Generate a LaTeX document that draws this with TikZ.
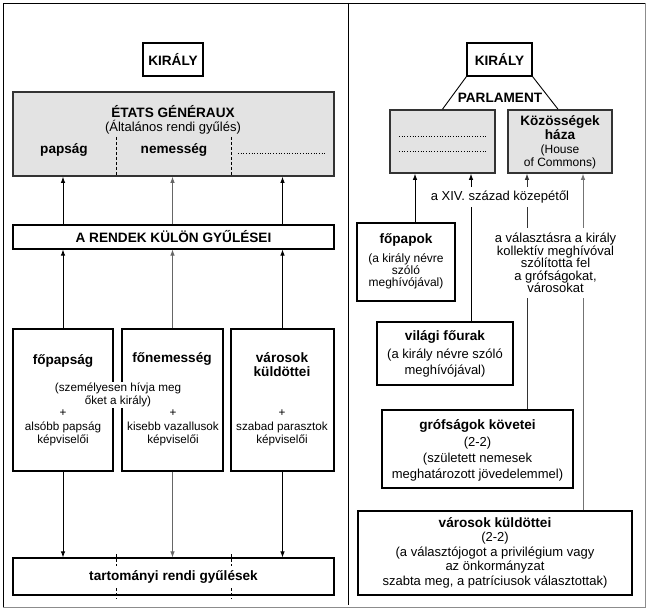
\documentclass[tikz,border=0pt]{standalone}
\usepackage{fontspec}
\setmainfont{Liberation Sans}
\usetikzlibrary{arrows.meta}

\tikzset{
  box/.style={draw, line width=1.1pt, fill=white, inner sep=0pt},
  graybox/.style={draw=black!80, line width=1.6pt, fill=black!11, inner sep=0pt},
  hd/.style={font=\fontsize{13.6}{14}\selectfont\bfseries},
  txt/.style={font=\fontsize{13}{12.6}\selectfont, align=center},
  small/.style={font=\fontsize{11.7}{12.4}\selectfont, align=center},
  arr/.style={-{Latex[length=6pt, width=4.5pt]}, line width=0.9pt},
  sep/.style={dash pattern=on 3pt off 2pt, line width=0.8pt},
}

\begin{document}
\begin{tikzpicture}[x=1pt, y=-1pt]
\useasboundingbox (0, 0) rectangle (648, 609);

% frame
\draw[line width=0.9pt] (645, 3) -- (3, 3) -- (3, 607);
\draw[black!45, line width=0.9pt] (3, 607) -- (645, 607) -- (645, 3);
\draw[line width=1pt] (348, 3) -- (348, 605);

% Left panel
\node (kiraly) at (173, 59.5) [box, hd, minimum width=60, minimum height=33] {KIRÁLY};

\node (etats) at (173.5, 134) [graybox, minimum width=321, minimum height=84] {};
\node (etatsT) at (173, 112) [hd] {ÉTATS GÉNÉRAUX};
\node (etatsS) at (173, 127) [txt] {(Általános rendi gyűlés)};
\draw[sep] (116, 137) -- (116, 176);
\draw[sep] (231, 137) -- (231, 176);
\node (papsag) at (64, 150) [hd] {papság};
\node (nemesseg) at (174, 150) [hd] {nemesség};
\draw[dotted, line width=0.7pt] (238, 153) -- (327, 153);

\node (rendek) at (173.5, 237) [box, hd, minimum width=321, minimum height=24] {A RENDEK KÜLÖN GYŰLÉSEI};

\node (fopapsag) at (63, 400) [box, minimum width=100, minimum height=142] {};
\node (fonemesseg) at (172.5, 400) [box, minimum width=101, minimum height=142] {};
\node (varosok) at (282.5, 400) [box, minimum width=103, minimum height=142] {};

\node (tart) at (173.5, 576.5) [box, hd, minimum width=321, minimum height=37] {tartományi rendi gyűlések};
\foreach \x in {116, 231} {
  \draw[sep] (\x, 554) -- (\x, 566);
  \draw[sep] (\x, 588) -- (\x, 599);
}

% arrows between the levels
\foreach \b/\c in {fopapsag/black, fonemesseg/black!60, varosok/black} {
  \draw[arr, \c] (\b.north) -- (\b.north |- rendek.south);
  \draw[arr, \c] (\b.north |- rendek.north) -- (\b.north |- etats.south);
  \draw[arr, \c] (\b.south) -- (\b.south |- tart.north);
}

% box texts
\node (fopapsagT) at (63, 361) [hd] {főpapság};
\node (fonemessegT) at (172, 359) [hd] {főnemesség};
\node (varosokT) at (282, 365) [hd, align=center] {városok\\küldöttei};
\node (szemelyesen) at (118, 395) [small, fill=white, inner sep=1pt] {(személyesen hívja meg\\őket a király)};

\node (plus1) at (63, 413) [small] {+};
\node (plus2) at (173, 413) [small] {+};
\node (plus3) at (282, 413) [small] {+};
\node (also1) at (63, 434) [small] {alsóbb papság\\képviselői};
\node (also2) at (173, 434) [small] {kisebb vazallusok\\képviselői};
\node (also3) at (282, 434) [small] {szabad parasztok\\képviselői};

% Right panel
\node (kiraly2) at (499.5, 59.5) [box, hd, minimum width=65, minimum height=33] {KIRÁLY};
\node (lords) at (442.5, 141.5) [graybox, minimum width=105, minimum height=63] {};
\node (commons) at (560, 141.5) [graybox, minimum width=104, minimum height=63] {};
\draw[line width=0.9pt] (kiraly2.south west) -- (lords.north);
\draw[line width=0.9pt] (kiraly2.south east) -- ([xshift=-2]commons.north);
\node (parlament) at (500, 98) [hd] {PARLAMENT};

\draw[dotted, line width=0.7pt] (399, 136) -- (487, 136);
\draw[dotted, line width=0.7pt] (399, 151) -- (487, 151);
\node (commonsT) at (560, 128) [hd, align=center, font=\fontsize{13.6}{12}\selectfont\bfseries] {Közösségek\\háza};
\node (house) at (560, 156.5) [small, font=\fontsize{12}{13}\selectfont] {(House\\of Commons)};

\node (fopapok) at (406, 262) [box, minimum width=98, minimum height=78] {};
\node (vilagi) at (445, 353.5) [box, minimum width=136, minimum height=63] {};
\node (grofsagok) at (477.5, 449) [box, minimum width=191, minimum height=78] {};
\node (varosok2) at (495, 553) [box, minimum width=274, minimum height=84] {};

% lines up to the houses
\coordinate (in1) at ([xshift=-27.5]lords.south);
\coordinate (in2) at ([xshift=28.5]lords.south);
\coordinate (in3) at ([xshift=-33]commons.south);
\coordinate (in4) at ([xshift=23]commons.south);
\draw[arr] (fopapok.north -| in1) -- (in1);
\draw[arr] (vilagi.north -| in2) -- (in2);
\draw[arr, black!80] (grofsagok.north -| in3) -- (in3);
\draw[arr, black!55] (varosok2.north -| in4) -- (in4);

\node (kozepetol) at (500, 197) [txt, fill=white, inner xsep=2pt, inner ysep=4pt] {a XIV. század közepétől};
\node (valasztas) at (555.5, 263) [txt, fill=white, inner xsep=2pt, inner ysep=5pt] {a választásra a király\\kollektív meghívóval\\szólította fel\\a grófságokat,\\városokat};

\node (fopapokT) at (406, 240) [hd] {főpapok};
\node (fopapokS) at (406, 271.5) [txt, font=\fontsize{12}{11.7}\selectfont] {(a király névre\\szóló\\meghívójával)};

\node (vilagiT) at (445, 337) [hd] {világi főurak};
\node (vilagiS) at (445, 363) [txt, font=\fontsize{13}{15.5}\selectfont] {(a király névre szóló\\meghívójával)};

\node (grofsagokT) at (477.5, 426) [hd] {grófságok követei};
\node (grofsagokS) at (477.5, 459) [txt, font=\fontsize{13}{16}\selectfont] {(2-2)\\(született nemesek\\meghatározott jövedelemmel)};

\node (varosok2T) at (495, 523) [hd] {városok küldöttei};
\node (varosok2S) at (495, 560) [txt, font=\fontsize{13}{14.7}\selectfont] {(2-2)\\(a választójogot a privilégium vagy\\az önkormányzat\\szabta meg, a patríciusok választottak)};

\end{tikzpicture}
\end{document}
